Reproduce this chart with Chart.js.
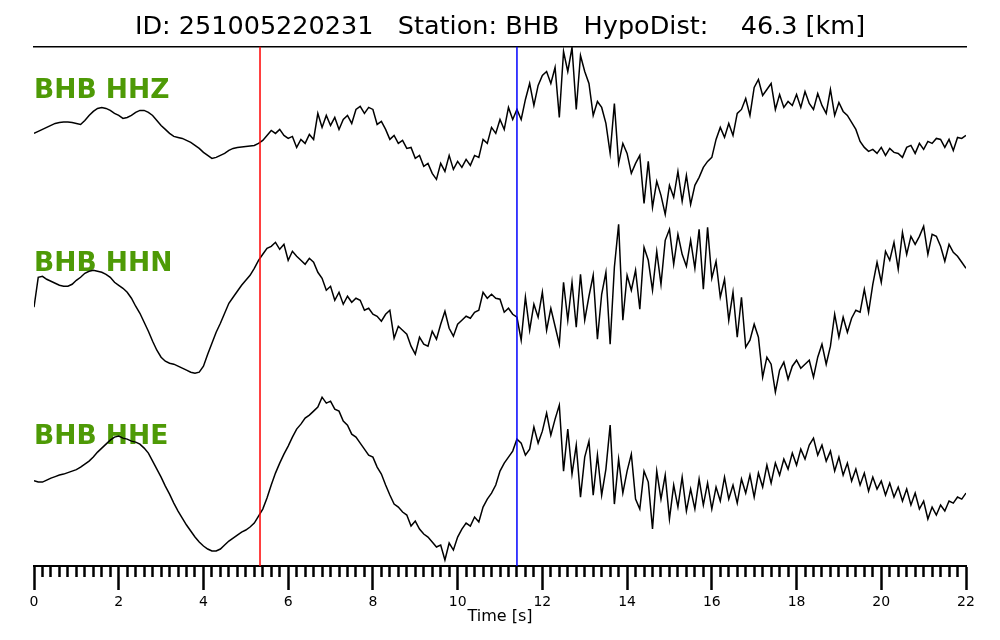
<!DOCTYPE html>
<html>
<head>
<meta charset="utf-8">
<script src="https://cdn.jsdelivr.net/npm/chart.js@4.4.1/dist/chart.umd.min.js"></script>
<style>
  html, body { margin: 0; padding: 0; background: #fff; }
</style>
</head>
<body>
<canvas id="seis" width="1000" height="640"></canvas>
<script>
// --- waveform samples (one every 0.1 s, 0..22 s), amplitude, up = positive
const sampleStep = 0.1;

const hhz = [
  0, 2, 4, 6, 8, 10, 11, 11.5, 11.5, 11,
  10, 9, 13, 18, 22, 25, 26, 25, 23, 20,
  18, 15, 16, 18, 21, 23, 23, 21, 18, 13,
  8, 4, 0, -3, -4, -5, -7, -9, -12, -15,
  -19, -22, -25, -24, -22, -20, -17, -15, -14, -13.5,
  -13, -12.5, -12, -10, -7, -2, 3, 0, 4, -2,
  -5, -3, -14, -6, -10, -1, -6, 20, 6, 18,
  8, 16, 4, 14, 18, 10, 24, 27, 20, 26,
  24, 9, 12, 4, -6, -2, -10, -7, -15, -14,
  -25, -22, -33, -30, -40, -46, -30, -38, -22, -36,
  -28, -34, -26, -32, -22, -24, -6, -10, 6, 0,
  14, 4, 26, 14, 24, 14, 34, 50, 28, 48,
  58, 62, 50, 66, 16, 82, 62, 86, 24, 78,
  62, 50, 18, 32, 26, 10, -20, 30, -30, -10,
  -20, -40, -30, -22, -70, -28, -74, -48, -62, -81,
  -52, -64, -38, -68, -42, -71, -52, -44, -34, -28,
  -24, -6, 6, -4, 10, -2, 20, 24, 35, 18,
  46, 54, 38, 44, 50, 24, 39, 26, 32, 28,
  39, 26, 42, 30, 24, 40, 28, 20, 44, 18,
  31, 22, 18, 11, 4, -8, -14, -18, -16, -20,
  -14, -22, -15, -19, -20, -24, -14, -12, -20, -10,
  -16, -8, -10, -5, -6, -14, -6, -17, -4, -5,
  -2
];

const hhn = [
  -1, 29, 30, 27, 25, 23, 21, 20, 20, 22,
  26, 29, 33, 35, 36, 35, 34, 32, 29, 24,
  21, 18, 14, 8, 0, -7, -16, -25, -35, -44,
  -51, -55, -57, -58, -60, -62, -64, -66, -67, -66,
  -60, -48, -37, -26, -17, -7, 3, 9, 15, 21,
  26, 31, 38, 46, 52, 58, 60, 64, 57, 62,
  46, 55, 50, 46, 42, 48, 44, 34, 28, 16,
  20, 6, 14, 2, 10, 4, 8, 6, -4, -2,
  -8, -10, -15, -8, -4, -32, -20, -24, -28, -40,
  -48, -31, -38, -40, -25, -33, -18, -5, -22, -30,
  -18, -14, -10, -12, -6, -4, 14, 8, 12, 8,
  7, -6, -2, -8, -11, -34, 9, -24, 2, -11,
  14, -24, -2, -20, -38, 24, -14, 24, -21, 32,
  -14, 10, 31, -33, 12, 34, -38, 39, 82, -14,
  31, 16, 36, -3, 59, 46, 16, 55, 22, 66,
  77, 42, 72, 52, 40, 66, 38, 77, 17, 79,
  28, 45, 9, 27, -14, 14, -31, 9, -41, -34,
  -18, -31, -71, -51, -58, -86, -64, -56, -73, -60,
  -54, -62, -58, -54, -71, -51, -38, -58, -40, -8,
  -31, -11, -26, -12, -4, -6, 17, -6, 22, 44,
  24, 55, 46, 64, 37, 74, 52, 70, 62, 70,
  80, 52, 72, 70, 60, 45, 62, 54, 50, 44,
  38
];

const hhe = [
  -1.5, -3, -3, -1, 1, 2.5, 4, 5, 6.5, 8,
  9.5, 12, 15, 18, 22, 27, 31, 35, 39, 42,
  43, 41, 40, 38, 37, 35, 31, 26, 18, 10,
  2, -7, -15, -24, -32, -39, -46, -52, -58, -63,
  -67, -70, -72, -72, -70, -66, -62, -59, -56, -53,
  -51, -48, -44, -37, -30, -19, -6, 6, 16, 25,
  33, 42, 50, 55, 61, 64, 68, 72, 82, 76,
  78, 70, 68, 58, 54, 45, 42, 36, 30, 24,
  22, 12, 5, -6, -16, -25, -28, -33, -36, -47,
  -42, -50, -55, -58, -63, -68, -66, -81, -64, -71,
  -58, -50, -44, -47, -38, -43, -28, -20, -14, -6,
  8, 16, 22, 28, 40, 36, 24, 30, 52, 36,
  48, 66, 44, 60, 74, 8, 50, 5, 34, -18,
  22, 38, -16, 24, -16, 10, 54, -25, 20, -14,
  8, 25, -20, -30, 8, -3, -50, 8, -20, 4,
  -40, -6, -28, 2, -32, -10, -30, 0, -26, -4,
  -30, -8, -22, 2, -20, -6, -24, 0, -14, 4,
  -18, 6, -8, 14, -4, 16, 4, 20, 10, 26,
  14, 30, 20, 34, 41, 24, 34, 18, 28, 8,
  22, 4, 16, -2, 10, -6, 6, -12, 2, -10,
  -2, -16, -4, -18, -8, -22, -10, -26, -14, -30,
  -22, -40, -28, -36, -26, -32, -22, -24, -18, -20,
  -14
];

const traceNames = ["BHB HHZ", "BHB HHN", "BHB HHE"];
const pPick = 5.335;   // red marker [s]
const sPick = 11.40;   // blue marker [s]
const titleText = "ID: 251005220231   Station: BHB   HypoDist:    46.3 [km]";

// --- layout of the stacked traces (not data)
const traceOffsets = [173, 0, -173];
const yLimit = 260;
const labelLift = 42;

function isMajor(v) {
  return Math.abs(v / 2 - Math.round(v / 2)) < 1e-6;
}

function toPoints(values, offset) {
  return values.map((v, i) => ({ x: Math.round(i * sampleStep * 100) / 100, y: v + offset }));
}

const traceLabels = {
  id: "traceLabels",
  beforeDatasetsDraw(chart) {
    const { ctx, chartArea, scales } = chart;
    ctx.save();
    ctx.font = 'bold 26.5px "DejaVu Sans"';
    ctx.fillStyle = "#4e9a06";
    ctx.textBaseline = "middle";
    ctx.textAlign = "left";
    traceNames.forEach((name, i) => {
      ctx.fillText(name, chartArea.left, scales.y.getPixelForValue(traceOffsets[i] + labelLift));
    });
    ctx.restore();
  }
};

const markerLine = (t, color) => ({
  data: [{ x: t, y: -yLimit }, { x: t, y: yLimit }],
  borderColor: color,
  borderWidth: 1.5,
  pointRadius: 0
});

const traces = [hhz, hhn, hhe].map((vals, i) => ({
  data: toPoints(vals, traceOffsets[i]),
  borderColor: "#000",
  borderWidth: 1.5,
  pointRadius: 0,
  tension: 0
}));

Chart.defaults.font.family = '"DejaVu Sans"';

new Chart(document.getElementById("seis"), {
  type: "line",
  data: {
    // first datasets are drawn on top
    datasets: [markerLine(pPick, "#ff0000"), markerLine(sPick, "#0000ff"), ...traces]
  },
  plugins: [traceLabels],
  options: {
    responsive: false,
    animation: false,
    devicePixelRatio: 1,
    layout: { padding: { left: 34, right: 34, top: 0, bottom: 13.4 } },
    plugins: {
      legend: { display: false },
      tooltip: { enabled: false },
      title: {
        display: true,
        text: titleText,
        color: "#000",
        font: { size: 25.5, weight: "normal", lineHeight: 1.2 },
        padding: { top: 12.5, bottom: 3.4 }
      }
    },
    scales: {
      x: {
        type: "linear",
        position: "bottom",
        min: 0,
        max: 22,
        border: { display: true, color: "#000", width: 2 },
        grid: {
          drawOnChartArea: false,
          drawTicks: true,
          tickLength: 24,
          tickColor: "#000",
          tickWidth: 2.5,
          tickBorderDash: (ctx) => (ctx.tick && isMajor(ctx.tick.value) ? [] : [10, 40])
        },
        ticks: {
          stepSize: 0.2,
          autoSkip: false,
          maxRotation: 0,
          padding: 3.6,
          color: "#000",
          font: { size: 14 },
          callback: (v) => (isMajor(v) ? String(Math.round(v)) : "")
        },
        title: {
          display: true,
          text: "Time [s]",
          color: "#000",
          font: { size: 16 },
          padding: { top: -6.6, bottom: 0 }
        }
      },
      xTop: {
        type: "linear",
        position: "top",
        min: 0,
        max: 22,
        border: { display: true, color: "#000", width: 1.5 },
        grid: { drawOnChartArea: false, drawTicks: false },
        ticks: { display: false }
      },
      y: {
        type: "linear",
        display: false,
        min: -yLimit,
        max: yLimit
      }
    }
  }
});
</script>
</body>
</html>
